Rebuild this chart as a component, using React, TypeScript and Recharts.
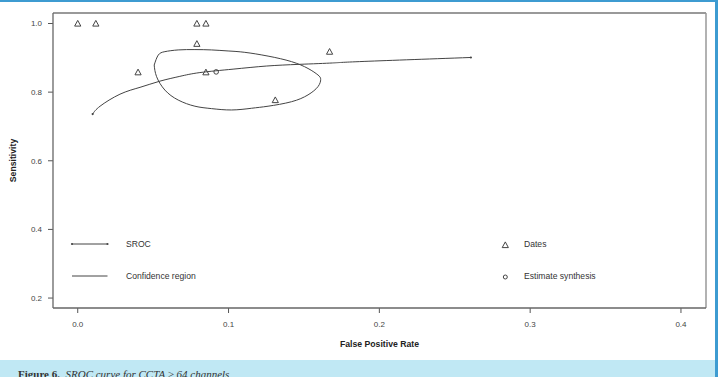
import React from "react";
import { ComposedChart, XAxis, YAxis, Line, Scatter } from "recharts";

// ---- data ----
const xTicks = [0.0, 0.1, 0.2, 0.3, 0.4];
const yTicks = [0.2, 0.4, 0.6, 0.8, 1.0];

const datesFPR = [0.0, 0.012, 0.079, 0.085, 0.079, 0.040, 0.085, 0.131, 0.167];
const datesSens = [1.0, 1.0, 1.0, 1.0, 0.941, 0.858, 0.858, 0.777, 0.918];

const estimateFPR = [0.0918];
const estimateSens = [0.859];

const srocFPR = [0.0099, 0.0148, 0.028, 0.0413, 0.0545, 0.0677, 0.081, 0.103, 0.125, 0.147, 0.169, 0.187, 0.2607];
const srocSens = [0.736, 0.759, 0.794, 0.814, 0.832, 0.846, 0.857, 0.867, 0.876, 0.881, 0.885, 0.889, 0.901];

const regionFPR = [
  0.0507, 0.0534, 0.0578, 0.0666, 0.0777, 0.0887, 0.0997, 0.1108, 0.1262, 0.1417, 0.1527, 0.1593, 0.1611,
  0.1593, 0.1527, 0.1417, 0.1262, 0.1152, 0.102, 0.0887, 0.0777, 0.0666, 0.0578, 0.0523, 0.0507,
];
const regionSens = [
  0.879, 0.908, 0.918, 0.923, 0.924, 0.923, 0.92, 0.916, 0.905, 0.889, 0.869, 0.85, 0.837,
  0.816, 0.792, 0.772, 0.759, 0.753, 0.748, 0.752, 0.759, 0.777, 0.806, 0.845, 0.879,
];

const xDomain = [-0.0164, 0.4166];
const yDomain = [0.171, 1.0306];

const zip = (xs: number[], ys: number[]) => xs.map((x, i) => ({ x, y: ys[i] }));
const datesData = zip(datesFPR, datesSens);
const estimateData = zip(estimateFPR, estimateSens);
const srocData = zip(srocFPR, srocSens);
const regionData = zip(regionFPR, regionSens);

const INK = "#444";
const FRAME = "#777";
const FONT = "'Liberation Sans', Arial, sans-serif";

// plot-frame geometry (matches chart margins / axis sizes below)
const M = { top: 13, right: 12, bottom: 39, left: 0 };
const W = 718;
const H = 377;
const Y_AXIS_W = 53;
const X_AXIS_H = 30;

const Triangle = (props: any) => {
  const { cx, cy } = props;
  return (
    <path
      d={`M${cx},${cy - 3.1} L${cx + 3.1},${cy + 2.6} L${cx - 3.1},${cy + 2.6} Z`}
      fill="none"
      stroke={INK}
      strokeWidth={1}
    />
  );
};

const Ring = (props: any) => {
  const { cx, cy } = props;
  return <circle cx={cx} cy={cy} r={2.3} fill="none" stroke={INK} strokeWidth={1} />;
};

const EndDot = (props: any) => {
  const { cx, cy, index } = props;
  if (index === 0 || index === srocData.length - 1) {
    return <circle key={`d${index}`} cx={cx} cy={cy} r={1.1} fill={INK} stroke="none" />;
  }
  return <g key={`d${index}`} />;
};

const tickStyle = { fontSize: 8, fill: "#444", fontFamily: FONT };

export default function App() {
  const px = M.left + Y_AXIS_W;
  const py = M.top;
  const pw = W - M.right - px;
  const ph = H - M.bottom - X_AXIS_H - py;
  return (
    <div style={{ position: "absolute", left: 0, top: 0, width: W, height: H, overflow: "hidden", background: "#fff" }}>
      {/* frame */}
      <div style={{ position: "absolute", left: 0, top: 0, width: 718, height: 2, background: "#3d9bd1" }} />
      <div style={{ position: "absolute", left: 715, top: 0, width: 3, height: 377, background: "#3d9bd1" }} />
      <div style={{ position: "absolute", left: 0, top: 360, width: 715, height: 17, background: "#c0e8f4" }} />
      <div
        style={{
          position: "absolute",
          left: 18,
          top: 369,
          fontFamily: "'Liberation Serif', serif",
          fontSize: 11,
          lineHeight: "11px",
          color: "#333",
          whiteSpace: "nowrap",
        }}
      >
        <b>Figure 6.</b>&nbsp;&nbsp;<i>SROC curve for CCTA ≥ 64 channels</i>
      </div>

      <div style={{ position: "absolute", left: 0, top: 0 }}>
        <ComposedChart width={W} height={H} margin={M}>
          <XAxis
            type="number"
            dataKey="x"
            domain={xDomain}
            ticks={xTicks}
            allowDataOverflow
            tickFormatter={(v: number) => v.toFixed(1)}
            axisLine={false}
            tickLine={{ stroke: "#555" }}
            tickSize={5}
            tickMargin={8}
            tick={tickStyle}
            height={X_AXIS_H}
            label={(p: any) => {
              const vb = p.viewBox || {};
              return (
                <text
                  x={vb.x + vb.width / 2}
                  y={347}
                  textAnchor="middle"
                  fontFamily={FONT}
                  fontWeight="bold"
                  fontSize={8.7}
                  fill="#222"
                >
                  False Positive Rate
                </text>
              );
            }}
          />
          <YAxis
            type="number"
            dataKey="y"
            domain={yDomain}
            ticks={yTicks}
            allowDataOverflow
            tickFormatter={(v: number) => v.toFixed(1)}
            axisLine={false}
            tickLine={{ stroke: "#555" }}
            tickSize={5}
            tickMargin={6}
            tick={tickStyle}
            width={Y_AXIS_W}
            label={(p: any) => {
              const vb = p.viewBox || {};
              const cy = vb.y + vb.height / 2;
              return (
                <text
                  x={16}
                  y={cy}
                  transform={`rotate(-90 16 ${cy})`}
                  textAnchor="middle"
                  fontFamily={FONT}
                  fontWeight="bold"
                  fontSize={8.7}
                  fill="#222"
                >
                  Sensitivity
                </text>
              );
            }}
          />
          <Line
            data={regionData}
            dataKey="y"
            type="natural"
            stroke={INK}
            strokeWidth={1}
            dot={false}
            activeDot={false}
            isAnimationActive={false}
            name="Confidence region"
          />
          <Line
            data={srocData}
            dataKey="y"
            type="natural"
            stroke={INK}
            strokeWidth={1}
            dot={EndDot}
            activeDot={false}
            isAnimationActive={false}
            name="SROC"
          />
          <Scatter data={datesData} dataKey="y" shape={Triangle} isAnimationActive={false} name="Dates" />
          <Scatter data={estimateData} dataKey="y" shape={Ring} isAnimationActive={false} name="Estimate synthesis" />
        </ComposedChart>
      </div>

      {/* plot frame + legend */}
      <svg width={W} height={H} style={{ position: "absolute", left: 0, top: 0, pointerEvents: "none" }}>
        <line x1={px} y1={py} x2={px + pw} y2={py} stroke={FRAME} strokeWidth={1.3} />
        <line x1={px + pw} y1={py} x2={px + pw} y2={py + ph} stroke="#999" strokeWidth={1.5} />
        <line x1={px} y1={py + ph} x2={px + pw} y2={py + ph} stroke="#666" strokeWidth={1.3} />
        <line x1={px} y1={py} x2={px} y2={py + ph} stroke="#666" strokeWidth={1.3} />
        <g fontFamily={FONT} fontSize={8.6} fill="#333">
          <line x1={72} y1={244} x2={107.5} y2={244} stroke={INK} strokeWidth={1} />
          <circle cx={72} cy={244} r={1.1} fill={INK} />
          <circle cx={107.5} cy={244} r={1.1} fill={INK} />
          <text x={126} y={247}>SROC</text>
          <line x1={72} y1={276} x2={107.5} y2={276} stroke={INK} strokeWidth={1} />
          <text x={126} y={279}>Confidence region</text>
          <path d="M505.3,241.9 L508.4,247.6 L502.2,247.6 Z" fill="none" stroke={INK} strokeWidth={1} />
          <text x={524} y={247}>Dates</text>
          <circle cx={505.3} cy={277} r={2} fill="none" stroke={INK} strokeWidth={1} />
          <text x={524} y={279}>Estimate synthesis</text>
        </g>
      </svg>
    </div>
  );
}
